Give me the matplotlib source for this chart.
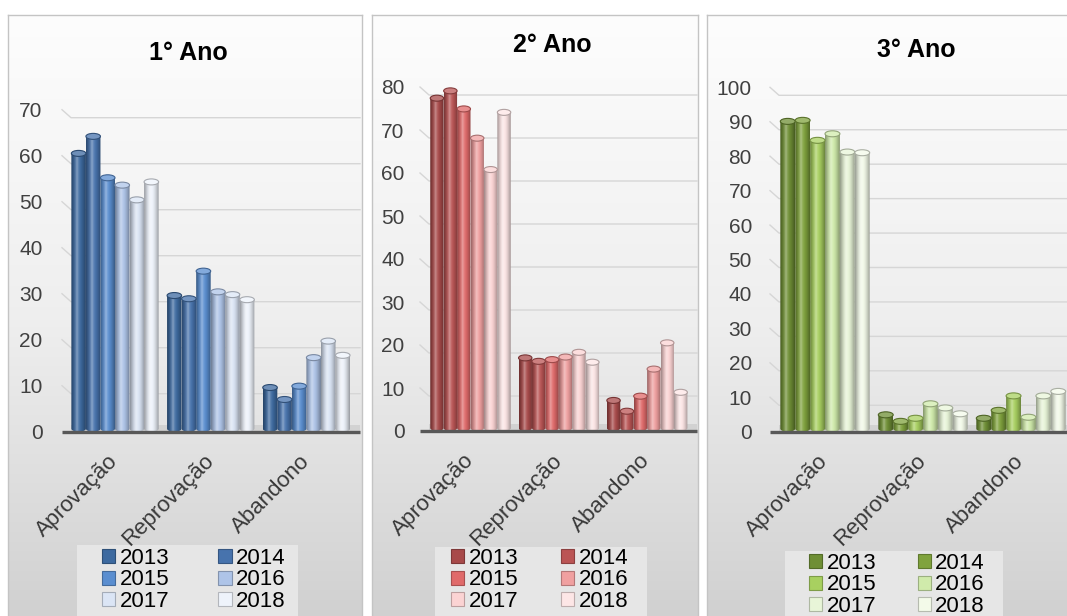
import numpy as np
import matplotlib.pyplot as plt
from matplotlib.patches import Polygon, Ellipse, Rectangle, Patch
from matplotlib.colors import to_rgb, LinearSegmentedColormap

plt.rcParams['font.family'] = ['Liberation Sans', 'DejaVu Sans']

W, H = 1067, 616

anos = ['2013', '2014', '2015', '2016', '2017', '2018']
categorias = ['Aprovação', 'Reprovação', 'Abandono']

# taxas (%) por ano, para cada série
ano1_aprovacao = [60.5, 64.2, 55.2, 53.6, 50.4, 54.3]
ano1_reprovacao = [29.6, 28.9, 34.9, 30.4, 29.8, 28.7]
ano1_abandono = [9.6, 7.0, 9.9, 16.1, 19.7, 16.6]

ano2_aprovacao = [77.4, 79.1, 74.9, 68.1, 60.8, 74.1]
ano2_reprovacao = [17.0, 16.2, 16.6, 17.2, 18.3, 16.0]
ano2_abandono = [7.1, 4.6, 8.1, 14.4, 20.5, 9.0]

ano3_aprovacao = [90.1, 90.4, 84.6, 86.5, 81.2, 81.0]
ano3_reprovacao = [4.9, 3.0, 3.9, 8.1, 6.9, 5.2]
ano3_abandono = [3.9, 6.2, 10.4, 4.2, 10.4, 11.7]

cores_azul = ['#3d6aa0', '#4773ad', '#5a8ed0', '#aec4e8', '#dbe5f5', '#eef3fb']
cores_verm = ['#a84a4a', '#bb5555', '#e06a6a', '#f0a0a0', '#fbd3d3', '#fde6e6']
cores_verde = ['#6f8f35', '#80a33d', '#a8d060', '#d0ebab', '#e8f5d8', '#f3fae9']

fig = plt.figure(figsize=(W / 100, H / 100), dpi=100)


def caixa(x0, y0, x1, y1):
    return [x0 / W, 1 - y1 / H, (x1 - x0) / W, (y1 - y0) / H]


def fundo(x0, y0, x1, y1):
    ax = fig.add_axes(caixa(x0, y0, x1, y1), zorder=0)
    grad = np.linspace(0, 1, 256)[:, None]
    cmap = LinearSegmentedColormap.from_list('g', ['#fdfdfd', '#eeeeee', '#cecece'])
    ax.imshow(grad, extent=(0, 1, 0, 1), aspect='auto', cmap=cmap, origin='upper')
    ax.set_xticks([])
    ax.set_yticks([])
    for s in ax.spines.values():
        s.set_color('#c4c4c4')
        s.set_linewidth(1)
    return ax


def cilindro(ax, x, w, h, cor, e, z):
    base = np.array(to_rgb(cor))
    t = np.linspace(0, 1, 48)
    s = np.sin(np.pi * t)
    luz = np.clip(1 - np.abs(t - 0.4) / 0.4, 0, 1)
    fator = 0.64 + 0.36 * s
    cores = base[None, :] * fator[:, None]
    cores = cores + (1 - cores) * (0.38 * luz ** 3)[:, None]
    im = ax.imshow(cores[None, :, :], extent=(x, x + w, 0, h), aspect='auto',
                   origin='lower', interpolation='bilinear', zorder=z)
    ang = np.linspace(np.pi, 2 * np.pi, 24)
    fundo_x = x + w / 2 + w / 2 * np.cos(ang)
    fundo_y = e + e * np.sin(ang)
    pts = [(x, h)] + list(zip(fundo_x, fundo_y)) + [(x + w, h)]
    contorno = Polygon(pts, closed=True, facecolor='none', edgecolor='none')
    ax.add_patch(contorno)
    im.set_clip_path(contorno)
    topo = base + (1 - base) * 0.25
    borda = base * 0.7
    ax.add_patch(Ellipse((x + w / 2, h), w, 2 * e, facecolor=topo, edgecolor=borda,
                         linewidth=0.8, zorder=z + 0.5))


def painel(series, cores, titulo, pos_titulo, px, ymax, passo, pad_rot,
           legenda_box, legenda_pos, espaco_col):
    ax_l, ax_r, c0, sp, y0, ytop = px
    ax = fig.add_axes(caixa(ax_l, ytop, ax_r, y0), zorder=2)
    ax.set_facecolor('none')
    ax_w, ax_h = ax_r - ax_l, y0 - ytop
    unid = ax_h / ymax
    e = 3 / unid
    larg = 0.152

    # grade na parede do fundo, com o traço inclinado à esquerda
    dx, dy = 9 / ax_w, 8 / ax_h
    for v in np.arange(passo, ymax + 1, passo):
        f = v / ymax
        ax.plot([0, dx, 1], [f, f - dy, f - dy], color='#d6d6d6', lw=1,
                transform=ax.transAxes, zorder=1, clip_on=False)
    # piso
    ax.add_patch(Rectangle((dx, 0), 1 - dx, 7 / ax_h, transform=ax.transAxes,
                           facecolor='#d2d2d2', edgecolor='none', zorder=1.2))

    for ci, vals in enumerate(series):
        for i, v in enumerate(vals):
            x = ci - 3 * larg + i * larg
            cilindro(ax, x, larg, v, cores[i], e, 3 + i * 0.01)

    ax.plot([0, 1], [0, 0], color='#585858', lw=2.4, transform=ax.transAxes,
            zorder=6, clip_on=False, solid_capstyle='butt')

    ax.set_xlim((ax_l - c0) / sp, (ax_r - c0) / sp)
    ax.set_ylim(0, ymax)
    ax.set_yticks(np.arange(0, ymax + 1, passo))
    ax.tick_params(axis='y', length=0, labelsize=15, labelcolor='#404040',
                   pad=pad_rot)
    ax.set_xticks(range(len(categorias)))
    ax.set_xticklabels(categorias, rotation=45, ha='right', va='center',
                       rotation_mode='anchor')
    ax.tick_params(axis='x', length=0, labelsize=16, labelcolor='#383838', pad=19)
    for s in ax.spines.values():
        s.set_visible(False)

    fig.text(pos_titulo[0] / W, 1 - pos_titulo[1] / H, titulo, fontsize=18,
             fontweight='bold', ha='center', va='center')

    bx0, by0, bx1 = legenda_box
    fig.patches.append(Rectangle((bx0 / W, 0), (bx1 - bx0) / W, 1 - by0 / H,
                                 transform=fig.transFigure, facecolor='#e6e6e6',
                                 edgecolor='none', zorder=1))
    handles = [Patch(facecolor=c, edgecolor=np.array(to_rgb(c)) * 0.75, linewidth=0.8)
               for c in cores]
    ordem = [0, 2, 4, 1, 3, 5]
    leg = fig.legend([handles[k] for k in ordem], [anos[k] for k in ordem],
                     ncol=2, loc='upper left',
                     bbox_to_anchor=(legenda_pos[0] / W, 1 - legenda_pos[1] / H),
                     bbox_transform=fig.transFigure, frameon=False, fontsize=16,
                     handlelength=0.6, handleheight=0.6, handletextpad=0.2,
                     labelspacing=0.02, columnspacing=espaco_col, borderpad=0,
                     borderaxespad=0)
    leg.set_zorder(5)


fundo(8, 15, 362, 640)
fundo(372, 15, 698, 640)
fundo(707, 15, 1090, 640)

painel([ano1_aprovacao, ano1_reprovacao, ano1_abandono], cores_azul, '1° Ano',
       (188, 53), (62, 360, 115, 95.7, 431.7, 431.7 - 70 * 4.6), 70, 10, 14,
       (77, 545, 298), (102, 548), 2.2)
painel([ano2_aprovacao, ano2_reprovacao, ano2_abandono], cores_verm, '2° Ano',
       (552, 45), (420, 697, 470.5, 88.3, 431, 431 - 80 * 4.3), 80, 10, 11,
       (435, 547, 647), (451, 548), 1.9)
painel([ano3_aprovacao, ano3_reprovacao, ano3_abandono], cores_verde, '3° Ano',
       (916, 50), (770, 1067, 825, 98, 431.7, 431.7 - 100 * 3.444), 100, 10, 13,
       (785, 551, 1003), (809, 553), 1.85)

fig.savefig('out.png', dpi=100)
